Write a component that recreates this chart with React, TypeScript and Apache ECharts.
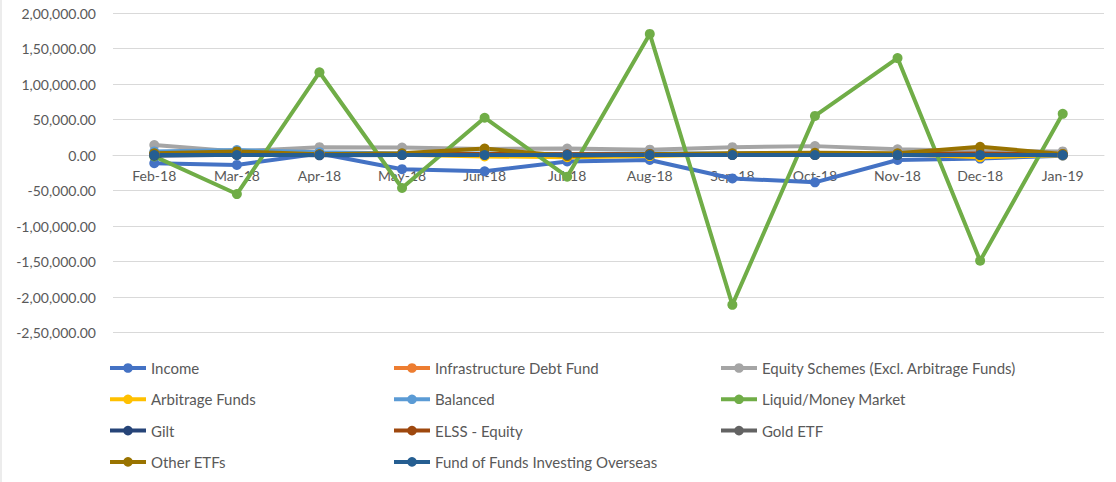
import React, { useEffect, useRef } from "react";
import * as echarts from "echarts";

const months = ["Feb-18", "Mar-18", "Apr-18", "May-18", "Jun-18", "Jul-18", "Aug-18", "Sep-18", "Oct-18", "Nov-18", "Dec-18", "Jan-19"];

const income = [-11500, -14000, 2000, -20000, -23000, -9000, -7000, -33000, -38500, -7000, -5000, -1000];
const infraDebt = [0, 0, 0, 0, 0, 0, 0, 0, 0, 0, 0, 0];
const equitySchemes = [14000, 5000, 11000, 10500, 8500, 9000, 7500, 11000, 12500, 8000, 5500, 5000];
const arbitrage = [2000, 3000, 1000, 500, -2000, -3000, -1500, 1000, 500, 1500, -3000, -500];
const balanced = [5000, 7000, 4000, 2000, 2000, 1500, 2000, 2000, 2000, 1000, 500, 500];
const liquid = [-2000, -55000, 116500, -46500, 52500, -30500, 170500, -211000, 55000, 136500, -149000, 58000];
const gilt = [-1000, 500, -500, 0, 500, -500, 0, 0, 0, 0, 0, 0];
const elss = [1500, 1500, 1000, 1000, 1500, 1000, 1500, 1000, 1000, 1500, 2000, 1000];
const goldEtf = [0, 500, 0, 0, 0, 0, 500, 0, 0, 0, 0, 0];
const otherEtfs = [2500, 5000, 1000, 2500, 9000, -1500, 1000, 2500, 3000, 2500, 11500, 1500];
const fundOfFunds = [0, 0, 0, 0, 0, 0, 0, 0, 0, 0, 0, 0];

const seriesDefs = [
  { name: "Income", data: income, color: "#4472C4" },
  { name: "Infrastructure Debt Fund", data: infraDebt, color: "#ED7D31" },
  { name: "Equity Schemes (Excl. Arbitrage Funds)", data: equitySchemes, color: "#A5A5A5" },
  { name: "Arbitrage Funds", data: arbitrage, color: "#FFC000" },
  { name: "Balanced", data: balanced, color: "#5B9BD5" },
  { name: "Liquid/Money Market", data: liquid, color: "#70AD47" },
  { name: "Gilt", data: gilt, color: "#264478" },
  { name: "ELSS - Equity", data: elss, color: "#9E480E" },
  { name: "Gold ETF", data: goldEtf, color: "#636363" },
  { name: "Other ETFs", data: otherEtfs, color: "#997300" },
  { name: "Fund of Funds Investing Overseas", data: fundOfFunds, color: "#255E91" },
];

const legendCol1 = ["Income", "Arbitrage Funds", "Gilt", "Other ETFs"];
const legendCol2 = ["Infrastructure Debt Fund", "Balanced", "ELSS - Equity", "Fund of Funds Investing Overseas"];
const legendCol3 = ["Equity Schemes (Excl. Arbitrage Funds)", "Liquid/Money Market", "Gold ETF"];

function indianFormat(v: number): string {
  const neg = v < 0;
  const n = Math.abs(Math.round(v));
  const s = String(n);
  let out = "";
  if (s.length > 3) {
    const last3 = s.slice(-3);
    let rest = s.slice(0, -3);
    const parts: string[] = [];
    while (rest.length > 2) {
      parts.unshift(rest.slice(-2));
      rest = rest.slice(0, -2);
    }
    if (rest.length) parts.unshift(rest);
    out = parts.join(",") + "," + last3;
  } else {
    out = s;
  }
  return (neg ? "-" : "") + out + ".00";
}

const FONT = "Lato, 'Open Sans', sans-serif";

export default function App() {
  const ref = useRef<HTMLDivElement>(null);
  useEffect(() => {
    if (!ref.current) return;
    const chart = echarts.init(ref.current, undefined, { renderer: "svg" });
    const legendBase = {
      orient: "vertical",
      top: 359.5,
      height: 130,
      padding: 0,
      itemWidth: 36,
      itemHeight: 12,
      itemGap: 14.3,
      lineStyle: { width: 4 },
      textStyle: { fontFamily: FONT, fontSize: 15, color: "#595959", lineHeight: 17 },
    };
    chart.setOption({
      animation: false,
      backgroundColor: "#ffffff",
      textStyle: { fontFamily: FONT },
      grid: { left: 113, right: 12, top: 13, bottom: 149.5, containLabel: false },
      xAxis: {
        type: "category",
        data: months,
        boundaryGap: true,
        position: "bottom",
        offset: -177.5,
        axisLine: { show: true, onZero: false, lineStyle: { color: "#D9D9D9", width: 1 } },
        axisTick: { show: false },
        axisLabel: { color: "#595959", fontSize: 14, fontFamily: FONT, margin: 13 },
        splitLine: { show: false },
      },
      yAxis: {
        type: "value",
        min: -250000,
        max: 200000,
        interval: 50000,
        axisLine: { show: false },
        axisTick: { show: false },
        axisLabel: {
          color: "#595959",
          fontSize: 14,
          fontFamily: FONT,
          margin: 17,
          formatter: (v: number) => indianFormat(v),
        },
        splitLine: { lineStyle: { color: "#D9D9D9", width: 1 } },
      },
      legend: [
        { ...legendBase, left: 108, data: legendCol1 },
        { ...legendBase, left: 392, data: legendCol2 },
        { ...legendBase, left: 719, data: legendCol3 },
      ],
      series: seriesDefs.map((s) => ({
        name: s.name,
        type: "line",
        data: s.data,
        symbol: "circle",
        symbolSize: 10,
        showSymbol: true,
        lineStyle: { color: s.color, width: 4 },
        itemStyle: { color: s.color },
        emphasis: { disabled: true },
      })),
      graphic: [
        {
          type: "line",
          shape: { x1: 1, y1: 0, x2: 1, y2: 482 },
          style: { stroke: "#D9D9D9", lineWidth: 1 },
        },
      ],
    });
    return () => chart.dispose();
  }, []);
  return (
    <div
      ref={ref}
      style={{ position: "fixed", left: 0, top: 0, width: 1116, height: 482 }}
    />
  );
}
